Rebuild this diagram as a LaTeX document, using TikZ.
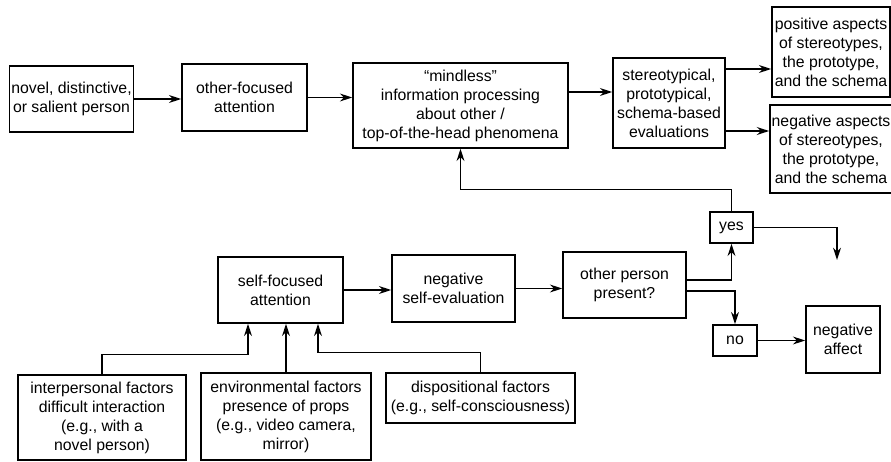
\documentclass[tikz,border=0pt]{standalone}
\usepackage{fontspec}
\setmainfont{Liberation Sans}
\usepackage{tikz}
\usetikzlibrary{calc,arrows.meta}

\tikzset{
  box/.style = {draw, line width = 0.9pt, align = center, inner sep = 1pt, font = \fontsize{9}{10.8}\selectfont},
  arr/.style = {line width = 0.8pt, -{Stealth[length = 7pt, width = 4.5pt]}}
}

\begin{document}
\begin{tikzpicture}[x = 0.02cm, y = -0.02cm]
        \useasboundingbox (0,0) rectangle (891,462);
        % upper row
        \node[box, minimum width = 2.46cm, minimum height = 1.32cm](nov)at(71.5,99){novel, distinctive,\\or salient person};
        \node[box, minimum width = 2.50cm, minimum height = 1.34cm](ofa)at(244.5,97.5){other-focused\\attention};
        \node[box, minimum width = 4.30cm, minimum height = 1.70cm](mind)at(460.5,105.5){``mindless''\\information processing\\about other /\\top-of-the-head  phenomena};
        \node[box, minimum width = 2.24cm, minimum height = 1.80cm](stereo)at(669,103){stereotypical,\\prototypical,\\schema-based\\evaluations};
        \node[box, minimum width = 2.36cm, minimum height = 1.80cm](pos)at(831,52){positive aspects\\of stereotypes,\\the prototype,\\and the schema};
        \node[box, minimum width = 2.36cm, minimum height = 1.76cm](neg)at(831,149){negative aspects\\of stereotypes,\\the prototype,\\and the schema};
        % decision
        \node[box, minimum width = 0.86cm, minimum height = 0.62cm](yes)at(731.5,227.5){yes};
        \node[box, minimum width = 0.88cm, minimum height = 0.62cm](no)at(735,340.5){no};
        \node[box, minimum width = 2.46cm, minimum height = 1.32cm](oth)at(624.5,285){other person\\present?};
        \node[box, minimum width = 1.48cm, minimum height = 1.34cm](aff)at(843,339.5){negative\\affect};
        % lower row
        \node[box, minimum width = 2.50cm, minimum height = 1.32cm](self)at(280.5,290){self-focused\\attention};
        \node[box, minimum width = 2.46cm, minimum height = 1.34cm](neval)at(453.5,288.5){negative\\self-evaluation};
        % factors
        \node[box, minimum width = 3.36cm, minimum height = 1.70cm](inter)at(102,417.5){interpersonal factors\\difficult interaction\\(e.g., with a\\novel person)};
        \node[box, minimum width = 3.40cm, minimum height = 1.74cm](env)at(286,416.5){environmental factors\\presence of props\\(e.g., video camera,\\mirror)};
        \node[box, minimum width = 3.78cm, minimum height = 1.00cm](disp)at(480.5,398){dispositional factors\\(e.g., self-consciousness)};
        % free end and entry points
        \coordinate(yfree)at(837,260);
        \coordinate(sin1)at([xshift = -0.65cm]self.south);
        \coordinate(sin3)at([xshift = 0.75cm]self.south);
        % arrows, upper row
        \path[draw, arr](nov.east)to(nov.east -| ofa.west);
        \path[draw, arr](ofa.east)to(ofa.east -| mind.west);
        \path[draw, arr](mind.east |- 0,92)to(stereo.west |- 0,92);
        \path[draw, arr](stereo.east |- 0,69)to(pos.west |- 0,69);
        \path[draw, arr](stereo.east |- 0,131)to(neg.west |- 0,131);
        % feedback
        \path[draw, arr](yes.north)--++(0,-22)-|(mind.south);
        \path[draw, arr](yes.east)-|(yfree);
        % decision arrows
        \path[draw, arr](oth.east |- 0,280)-|(yes.south);
        \path[draw, arr](oth.east |- 0,291)-|(no.north);
        \path[draw, arr](no.east)to(no.east -| aff.west);
        % arrows, lower row
        \path[draw, arr](self.east)to(self.east -| neval.west);
        \path[draw, arr](neval.east)to(neval.east -| oth.west);
        \path[draw, arr](inter.north)|-($(sin1)+(0,31)$)--(sin1);
        \path[draw, arr](env.north)to(env.north |- self.south);
        \path[draw, arr](disp.north)|-($(sin3)+(0,29)$)--(sin3);
    \end{tikzpicture}
\end{document}
